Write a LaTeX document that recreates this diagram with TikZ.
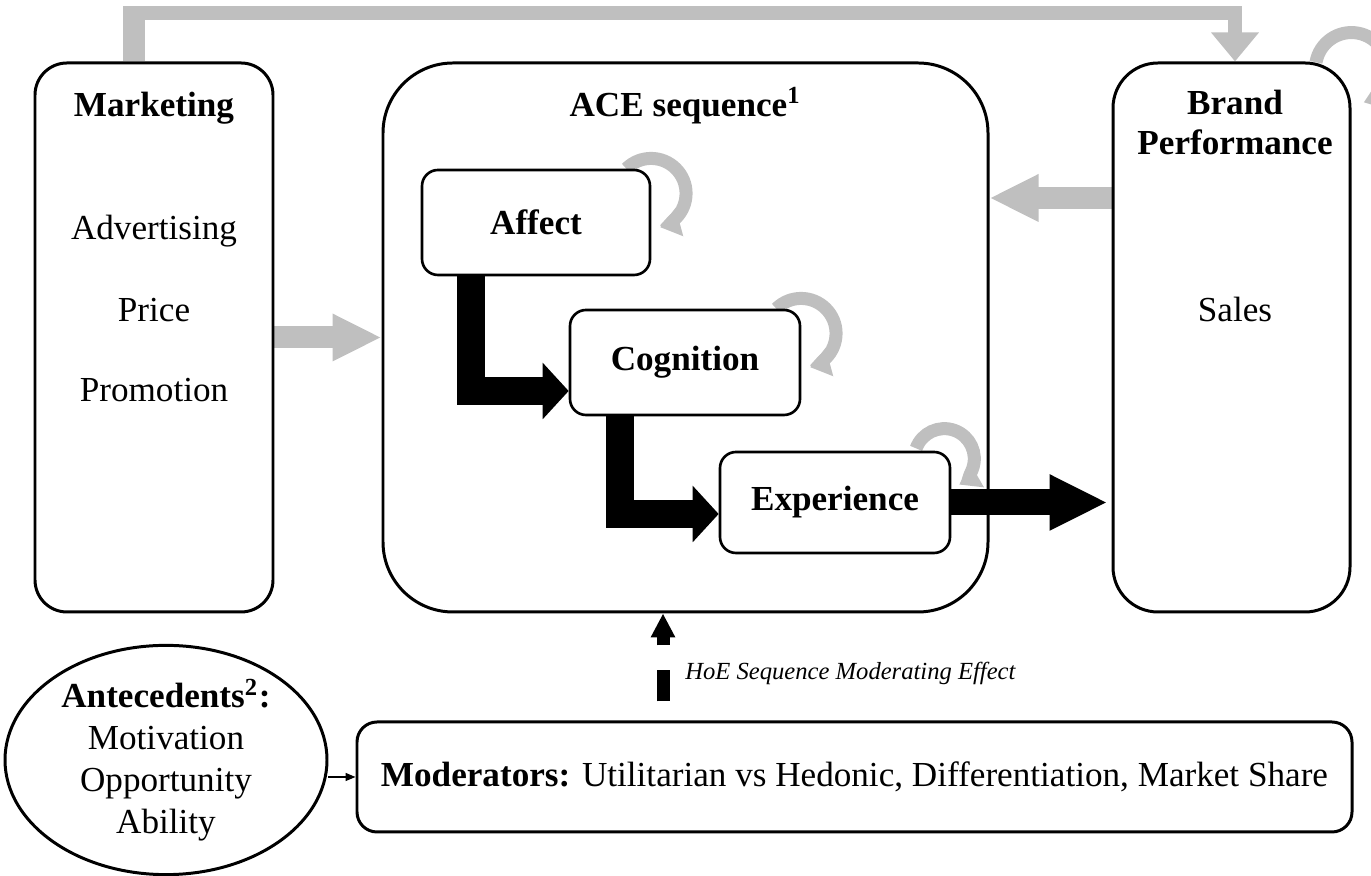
\documentclass[tikz,border=0pt]{standalone}
\usepackage{fontspec}
\setmainfont{Liberation Serif}
\usetikzlibrary{arrows.meta,shapes.geometric,backgrounds}

\begin{document}
\begin{tikzpicture}[
    font=\fontsize{10}{12}\selectfont,
    bigbox/.style={draw, line width=0.85pt, minimum height=5.49cm},
    smallbox/.style={draw, fill=white, line width=0.75pt, rounded corners=0.16cm, minimum width=2.3cm, font=\fontsize{10}{12}\selectfont\bfseries},
    title/.style={anchor=base, font=\fontsize{10}{12}\selectfont\bfseries},
    item/.style={anchor=base},
    grayarrow/.style={draw=black!25, line width=0.22cm, -{Triangle[width=0.44cm,length=0.49cm]}},
    blackarrow/.style={line width=0.28cm, -{Triangle[width=0.55cm,length=0.26cm]}},
    loopy/.style={draw=black!25, line width=0.13cm, -{Triangle[width=0.28cm,length=0.2cm]}}
  ]
  \useasboundingbox (0,0) rectangle (13.71,-8.76);

  \node[bigbox, rounded corners=0.32cm, minimum width=2.38cm] (mkt) at (1.54,-3.375) {};
  \node[bigbox, rounded corners=0.7cm, minimum width=6.05cm] (ace) at (6.855,-3.375) {};
  \node[bigbox, rounded corners=0.45cm, minimum width=2.37cm] (brand) at (12.315,-3.375) {};

  \node[title] (mkttitle) at (1.54,-1.165) {Marketing};
  \node[item] (adv) at (1.54,-2.395) {Advertising};
  \node[item] (price) at (1.54,-3.215) {Price};
  \node[item] (promo) at (1.54,-4.015) {Promotion};

  \node[title] (acetitle) at (6.855,-1.165) {ACE sequence\textsuperscript{1}};

  \node[title] (brandtitle) at (12.35,-1.145) {Brand};
  \node[title] (perftitle) at (12.35,-1.545) {Performance};
  \node[item] (sales) at (12.35,-3.215) {Sales};

  \node[smallbox, minimum height=1.05cm, minimum width=2.28cm] (aff) at (5.36,-2.225) {Affect};
  \node[smallbox, minimum height=1.05cm] (cog) at (6.85,-3.625) {Cognition};
  \node[smallbox, minimum height=1.01cm] (exp) at (8.35,-5.025) {Experience};

  \node[draw, line width=0.85pt, rounded corners=0.2cm, minimum width=9.95cm, minimum height=1.10cm] (mod) at (8.545,-7.77)
    {\textbf{Moderators:} Utilitarian vs Hedonic, Differentiation, Market Share};
  \node[draw, ellipse, line width=0.85pt, inner sep=0pt, minimum width=3.22cm, minimum height=2.26cm, align=center,
    font=\fontsize{10}{11.9}\selectfont] (ant) at (1.66,-7.60)
    {\textbf{Antecedents\textsuperscript{2}:}\\Motivation\\Opportunity\\Ability};

  \begin{scope}[on background layer]
    \draw[draw=black!25, line width=0.14cm, -{Triangle[width=0.46cm,length=0.29cm]}]
      ([xshift=-0.2cm]mkt.north) -- ++(0,0.48) -| ([xshift=0.035cm]brand.north);
    \draw[draw=black!25, line width=0.22cm] ([xshift=-0.2cm]mkt.north) -- ++(0,0.55);
    \draw[grayarrow] (mkt.east) -- (ace.west);
    \draw[grayarrow] ([yshift=1.395cm]brand.west) -- ([yshift=1.395cm]ace.east);

    \draw[loopy] ([xshift=-0.25cm]aff.north east) arc[start angle=135, end angle=-75, radius=0.35cm];
    \draw[loopy] ([xshift=-0.25cm]cog.north east) arc[start angle=135, end angle=-75, radius=0.35cm];
    \draw[loopy] ([shift={(-0.352cm,0.023cm)}]exp.north east) arc[start angle=160, end angle=-60, radius=0.30cm];
    \draw[loopy] ([shift={(-0.355cm,-0.008cm)}]brand.north east) arc[start angle=170, end angle=-70, radius=0.36cm];
  \end{scope}

  \draw[blackarrow] ([xshift=-0.65cm]aff.south) |- ([yshift=-0.285cm]cog.west);
  \draw[blackarrow] ([xshift=-0.65cm]cog.south) |- ([yshift=-0.115cm]exp.west);
  \draw[line width=0.26cm, -{Triangle[width=0.52cm,length=0.58cm]}] (exp.east) -- ([xshift=-0.04cm]exp.east -| brand.west);

  \draw[line width=0.13cm, dash pattern=on 0.31cm off 0.25cm, dash phase=0.37cm, -{Triangle[width=0.23cm,length=0.24cm]}]
    ([xshift=-0.225cm]ace.south |- mod.north) -- ([xshift=-0.225cm]ace.south);
  \node[anchor=base west, font=\fontsize{7}{8}\selectfont\itshape] (hoe) at (6.73,-6.80) {HoE Sequence Moderating Effect};

  \draw[line width=0.4pt, -{Triangle[width=0.08cm,length=0.1cm]}] (ant.east |- mod.west) -- (mod.west);
\end{tikzpicture}
\end{document}
